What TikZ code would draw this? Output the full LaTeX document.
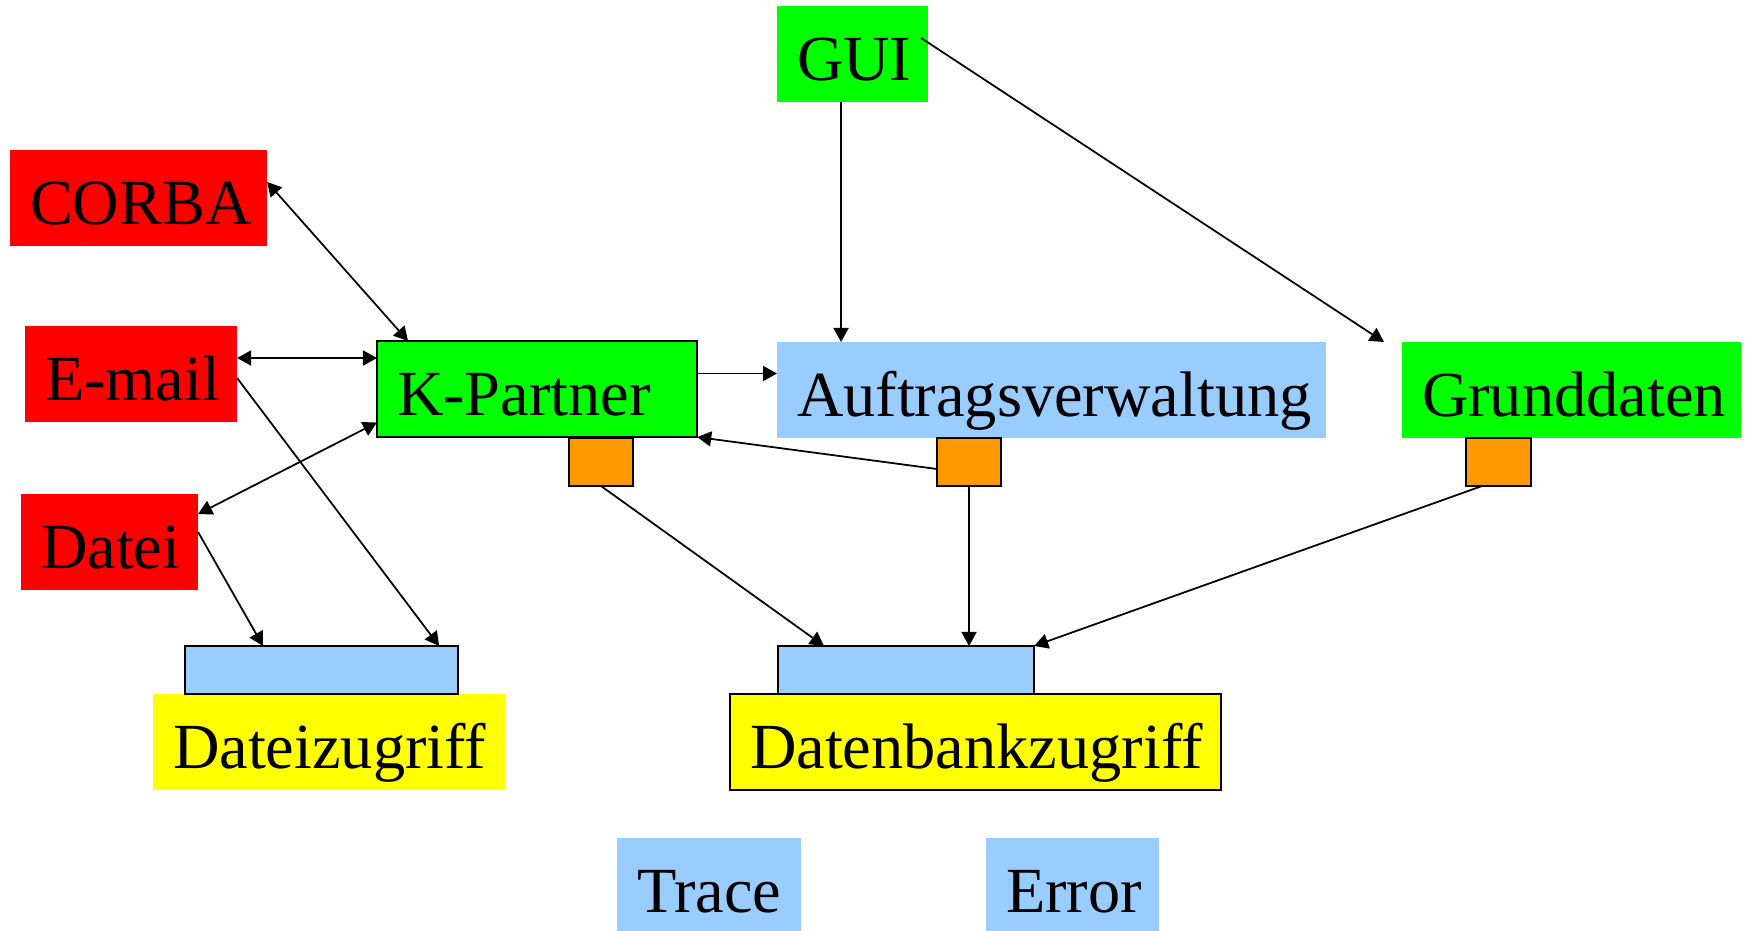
\documentclass[tikz,border=0pt]{standalone}
\usepackage{fontspec}
\setmainfont{Liberation Serif}
\usetikzlibrary{arrows.meta}
\definecolor{cred}{HTML}{FF0000}
\definecolor{cgreen}{HTML}{00FF00}
\definecolor{cblue}{HTML}{99CCFF}
\definecolor{corange}{HTML}{FF9900}
\definecolor{cyellow}{HTML}{FFFF00}
\tikzset{
  lbl/.style={anchor=north west, inner xsep=0.2cm, inner ysep=0pt, outer sep=0pt,
    text height=0.74cm, text depth=0.22cm, align=left,
    font=\fontsize{18.3pt}{20pt}\selectfont},
  plate/.style={anchor=north west, inner sep=0pt, outer sep=0pt, draw, line width=0.5pt},
  con/.style={line width=0.5pt, -{Triangle[length=0.14cm,width=0.15cm]}},
  bicon/.style={line width=0.5pt, {Triangle[length=0.14cm,width=0.15cm]}-{Triangle[length=0.14cm,width=0.15cm]}}
}
\begin{document}
\begin{tikzpicture}[x=0.01cm,y=-0.01cm]
\useasboundingbox (0,0) rectangle (1746,931);

% module boxes
\node[lbl, fill=cgreen, text width=1.11cm] (gui) at (777,6) {\mbox{GUI}};
\node[lbl, fill=cred, text width=2.17cm] (corba) at (10,150) {\mbox{CORBA}};
\node[lbl, fill=cred, text width=1.72cm] (email) at (25,326) {\mbox{E-mail}};
\node[lbl, fill=cred, text width=1.37cm] (datei) at (21,494) {\mbox{Datei}};
\node[lbl, fill=cblue, text width=5.09cm] (auf) at (777,342) {\mbox{Auftragsverwaltung}};
\node[lbl, fill=cgreen, text width=2.99cm] (grund) at (1402,342) {\mbox{Grunddaten}};

% interface squares
\node[plate, fill=corange, minimum width=0.64cm, minimum height=0.48cm] (o1) at (569,438) {};
\node[plate, fill=corange, minimum width=0.64cm, minimum height=0.48cm] (o2) at (937,438) {};
\node[plate, fill=corange, minimum width=0.65cm, minimum height=0.48cm] (o3) at (1466,438) {};

\node[lbl, fill=cgreen, draw, line width=0.5pt, text width=2.80cm] (kp) at (377,341) {\mbox{K-Partner}};

% access layers
\node[lbl, fill=cyellow, text width=3.12cm] (dz) at (153,694) {\mbox{Dateizugriff}};
\node[plate, fill=cblue, minimum width=2.73cm, minimum height=0.48cm] (dztop) at (185,646) {};
\node[lbl, fill=cyellow, draw, line width=0.5pt, text width=4.51cm] (db) at (730,694) {\mbox{Datenbankzugriff}};
\node[plate, fill=cblue, minimum width=2.56cm, minimum height=0.48cm] (dbtop) at (778,646) {};

% services
\node[lbl, fill=cblue, text width=1.44cm] (trace) at (617,838) {\mbox{Trace}};
\node[lbl, fill=cblue, text width=1.33cm] (err) at (986,838) {\mbox{Error}};

% connectors
\draw[bicon] ([yshift=-0.32cm]corba.north east) -- ([xshift=0.31cm]kp.north west);
\draw[bicon] ([yshift=0.16cm]email.east) -- ([yshift=0.16cm]email.east -| kp.west);
\draw[bicon] ([yshift=0.28cm]datei.east) -- ([yshift=-0.335cm]kp.west);
\draw[con] ([yshift=-0.04cm]email.east) -- ([xshift=-0.19cm]dztop.north east);
\draw[con] ([yshift=0.10cm]datei.east) -- ([xshift=0.78cm]dztop.north west);
\draw[con] ([yshift=0.155cm]kp.east) -- ([yshift=0.155cm]kp.east -| auf.west);
\draw[con] ([yshift=-0.07cm]o2.west) -- (kp.south east);
\draw[con] (o1.south) -- ([xshift=0.46cm]dbtop.north west);
\draw[con] (o2.south) -- (o2.south |- dbtop.north);
\draw[con] ([xshift=-0.165cm]o3.south) -- (dbtop.north east);
\draw[con] ([xshift=-0.115cm]gui.south) -- ([xshift=-0.115cm]gui.south |- auf.north);
\draw[con] ([xshift=-0.07cm,yshift=-0.32cm]gui.north east) -- ([xshift=-0.18cm]grund.north west);
\end{tikzpicture}
\end{document}
